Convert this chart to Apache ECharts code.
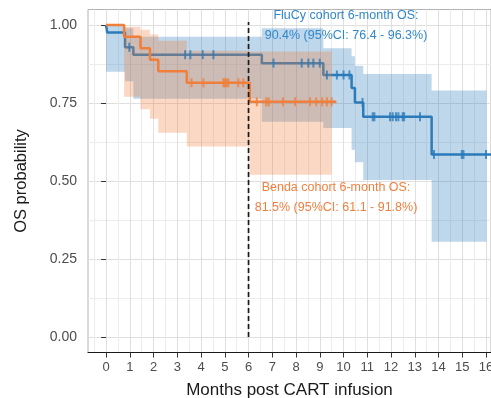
<!DOCTYPE html>
<html>
<head>
<meta charset="utf-8">
<script src="https://cdn.jsdelivr.net/npm/echarts@6/dist/echarts.min.js"></script>
<style>
  html, body { margin: 0; padding: 0; background: #fff; }
  #chart { width: 491px; height: 398px; }
</style>
</head>
<body>
<div id="chart"></div>
<script>
// FluCy cohort: KM steps
var fluTime  = [0, 0.05, 0.8, 1.15, 6.56, 9.15, 10.34, 10.48, 10.83, 13.71, 16.25];
var fluSurv  = [1.0, 0.976, 0.929, 0.905, 0.878, 0.840, 0.798, 0.752, 0.706, 0.585, 0.585];
// FluCy 95% CI (value holds from time i to time i+1)
var fluCiTime  = [0, 0.05, 0.8, 1.15, 6.56, 9.15, 10.34, 10.48, 10.83, 13.71, 16.02];
var fluCiUpper = [1.0, 1.0, 0.99, 0.963, 0.99, 0.926, 0.90, 0.87, 0.843, 0.79, 0.79];
var fluCiLower = [0.85, 0.85, 0.82, 0.764, 0.69, 0.67, 0.60, 0.56, 0.503, 0.305, 0.305];
var fluCensor  = [0.98, 3.33, 3.55, 4.07, 4.52, 7.05, 8.24, 8.52, 8.73, 9.0, 9.3, 9.72, 10.0, 10.25,
                  10.8, 11.23, 11.3, 11.96, 12.07, 12.21, 12.31, 12.49, 12.55, 13.22, 13.81, 14.98, 15.05, 16.0];

// Benda cohort
var bendaTime  = [0, 0.76, 1.45, 1.85, 2.2, 3.4, 6.05, 9.7];
var bendaSurv  = [1.0, 0.963, 0.926, 0.889, 0.852, 0.815, 0.754, 0.754];
var bendaCiTime  = [0, 0.76, 1.45, 1.85, 2.2, 3.4, 6.05, 9.5];
var bendaCiUpper = [1.0, 0.995, 0.985, 0.97, 0.95, 0.918, 0.915, 0.915];
var bendaCiLower = [1.0, 0.77, 0.73, 0.70, 0.655, 0.611, 0.52, 0.52];
var bendaCensor  = [3.6, 4.1, 4.94, 5.0, 5.08, 5.15, 5.57, 5.78,
                    6.35, 6.75, 6.85, 7.45, 7.96, 8.59, 8.85, 9.1, 9.3, 9.5];

var xTicks = [0, 1, 2, 3, 4, 5, 6, 7, 8, 9, 10, 11, 12, 13, 14, 15, 16];
var xMinor = [-0.5, 0.5, 1.5, 2.5, 3.5, 4.5, 5.5, 6.5, 7.5, 8.5, 9.5, 10.5, 11.5, 12.5, 13.5, 14.5, 15.5];
var yTicks = [0, 0.25, 0.5, 0.75, 1];
var yMinor = [0.125, 0.375, 0.625, 0.875];
var cutoff = 6;

var BLUE = '#2b7bba', ORANGE = '#ef7f3a';
var FONT = '"Liberation Sans", Arial, sans-serif';

function survAt(times, surv, t) {
  var s = surv[0];
  for (var i = 0; i < times.length; i++) { if (times[i] <= t) s = surv[i]; }
  return s;
}

function band(times, lo, hi, fill, z) {
  return {
    type: 'custom', z: z, silent: true, data: [[cutoff, 0.5]],
    renderItem: function (params, api) {
      var pts = [], i;
      for (i = 0; i < times.length - 1; i++) {
        pts.push(api.coord([times[i], hi[i]]));
        pts.push(api.coord([times[i + 1], hi[i]]));
      }
      for (i = times.length - 2; i >= 0; i--) {
        pts.push(api.coord([times[i + 1], lo[i]]));
        pts.push(api.coord([times[i], lo[i]]));
      }
      return { type: 'polygon', shape: { points: pts }, style: { fill: fill } };
    }
  };
}

function curve(times, surv, color, z) {
  return {
    type: 'line', step: 'end', symbol: 'none', z: z, clip: true,
    lineStyle: { color: color, width: 2.5 },
    data: times.map(function (t, i) { return [t, surv[i]]; })
  };
}

function censors(ct, times, surv, color, z) {
  return {
    type: 'scatter', symbol: 'rect', symbolSize: [2, 9], z: z,
    itemStyle: { color: color },
    data: ct.map(function (t) { return [t, survAt(times, surv, t)]; })
  };
}

var chart = echarts.init(document.getElementById('chart'));
chart.setOption({
  animation: false,
  backgroundColor: '#fff',
  textStyle: { fontFamily: FONT },
  grid: {
    left: 88, right: 0, top: 9.5, bottom: 45.5,
    show: true, borderColor: '#b3b3b3', borderWidth: 1,
    outerBoundsMode: 'none'
  },
  xAxis: [{
    type: 'value', min: -0.76, max: 16.21,
    axisLine: { show: true, onZero: false, lineStyle: { color: '#1a1a1a', width: 1 } },
    axisTick: { show: true, customValues: xTicks, length: 5, lineStyle: { color: '#333' } },
    axisLabel: { customValues: xTicks, color: '#4d4d4d', fontSize: 13, margin: 8, fontFamily: FONT },
    splitLine: { show: true, lineStyle: { color: '#dfdfdf', width: 1 } },
    name: 'Months post CART infusion', nameLocation: 'middle', nameGap: 29,
    nameTextStyle: { fontSize: 17, color: '#1a1a1a', fontFamily: FONT }
  }, {
    type: 'value', min: -0.76, max: 16.21, position: 'top',
    axisLine: { show: false }, axisLabel: { show: false },
    axisTick: { show: false, customValues: xMinor },
    splitLine: { show: true, lineStyle: { color: '#ececec', width: 1 } }
  }],
  yAxis: [{
    type: 'value', min: -0.05, max: 1.05,
    axisLine: { show: false },
    axisTick: { show: true, customValues: yTicks, length: 5, lineStyle: { color: '#333' } },
    axisLabel: {
      customValues: yTicks, color: '#4d4d4d', fontSize: 14, margin: 11, fontFamily: FONT,
      formatter: function (v) { return v.toFixed(2); }
    },
    splitLine: { show: true, lineStyle: { color: '#dfdfdf', width: 1 } },
    name: 'OS probability', nameLocation: 'middle', nameGap: 58,
    nameTextStyle: { fontSize: 16.5, color: '#1a1a1a', fontFamily: FONT }
  }, {
    type: 'value', min: -0.05, max: 1.05, position: 'right',
    axisLine: { show: false }, axisLabel: { show: false },
    axisTick: { show: false, customValues: yMinor },
    splitLine: { show: true, lineStyle: { color: '#ececec', width: 1 } }
  }],
  series: [
    band(fluCiTime, fluCiLower, fluCiUpper, 'rgba(43,123,186,0.3)', 1),
    curve(fluTime, fluSurv, BLUE, 2),
    band(bendaCiTime, bendaCiLower, bendaCiUpper, 'rgba(239,127,58,0.3)', 3),
    curve(bendaTime, bendaSurv, ORANGE, 4),
    censors(fluCensor, fluTime, fluSurv, BLUE, 5),
    censors(bendaCensor, bendaTime, bendaSurv, ORANGE, 6),
    {
      type: 'line', symbol: 'none', z: 7,
      lineStyle: { color: '#1a1a1a', width: 1.7, type: [5, 3] },
      data: [[cutoff, 0], [cutoff, 1.01]]
    }
  ],
  graphic: [{
    type: 'text', x: 346, y: 26, z: 100,
    style: {
      text: 'FluCy cohort 6-month OS:\n90.4% (95%CI: 76.4 - 96.3%)',
      fill: '#2f88cc', font: '12.5px ' + FONT, lineHeight: 20,
      align: 'center', verticalAlign: 'middle'
    }
  }, {
    type: 'text', x: 336, y: 198, z: 100,
    style: {
      text: 'Benda cohort 6-month OS:\n81.5% (95%CI: 61.1 - 91.8%)',
      fill: '#f27f3e', font: '12.5px ' + FONT, lineHeight: 20,
      align: 'center', verticalAlign: 'middle'
    }
  }]
});
</script>
</body>
</html>
